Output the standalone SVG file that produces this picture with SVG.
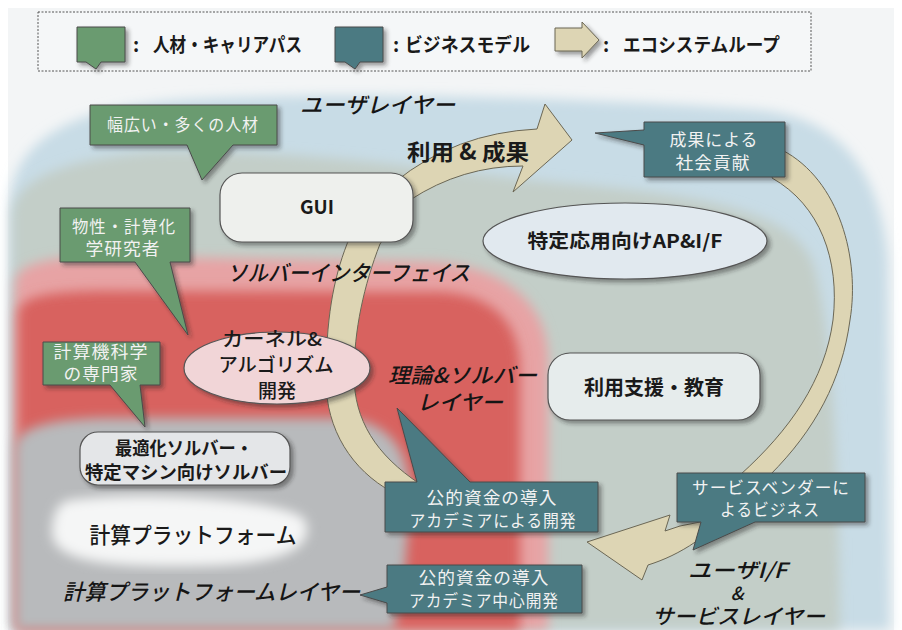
<svg xmlns="http://www.w3.org/2000/svg" width="902" height="630" viewBox="0 0 902 630">
<defs>
  <filter id="blur" x="-10%" y="-10%" width="120%" height="120%"><feGaussianBlur stdDeviation="6"/></filter>
  <filter id="shadow" x="-10%" y="-10%" width="130%" height="140%"><feDropShadow dx="3" dy="3" stdDeviation="2" flood-color="#222" flood-opacity="0.45"/></filter>
</defs>
<style>
  text { font-family: "Noto Sans CJK JP", "Noto Sans", sans-serif; }
  .cg { fill: #6a9b6f; stroke: #4a4a4a; stroke-width: 1; filter: url(#shadow); }
  .ct { fill: #4b7a82; stroke: #4a4a4a; stroke-width: 1; filter: url(#shadow); }
  .ctx { font-size: 17px; fill: #f2f2f2; text-anchor: middle; letter-spacing: 1px; }
  .node { stroke: #555; stroke-width: 1.2; filter: url(#shadow); }
  .lbl { font-size: 19px; font-weight: bold; fill: #1a1a1a; text-anchor: middle; }
  .lay { font-size: 22px; font-style: italic; font-weight: 500; fill: #151515; }
  .band { fill: #ddd5b4; stroke: #6b6755; stroke-width: 1; }
  .leg { font-size: 19px; font-weight: bold; fill: #1a1a1a; }
</style>

<g id="background">
  <rect width="902" height="630" fill="#ffffff"/>
  <rect x="8" y="8" width="886" height="622" fill="#f3f5f6"/>
  <path filter="url(#blur)" fill="#c8dce6" d="M10,630 L10,200 C15,140 70,108 180,100 C330,90 600,98 760,110 C840,118 880,170 888,260 L890,630 Z"/>
  <path filter="url(#blur)" fill="#c3cec8" d="M12,630 L12,215 C15,180 60,160 150,152 C300,148 450,172 560,183 C700,195 800,210 815,270 C830,330 838,420 840,630 Z"/>
  <path filter="url(#blur)" fill="#e7a3a4" d="M15,630 L15,285 C15,265 40,258 100,256 L430,262 C500,265 548,300 548,360 L548,630 Z"/>
  <path filter="url(#blur)" fill="#d8625f" d="M18,630 L18,315 C18,298 40,292 100,291 L440,292 C490,294 520,320 520,370 L520,630 Z"/>
  <path filter="url(#blur)" fill="#b8babc" d="M15,630 L15,450 C15,430 40,420 100,418 L340,418 C390,420 410,450 410,500 L405,570 C400,600 395,615 395,630 Z"/>
  <path filter="url(#blur)" fill="#f5f6f6" d="M70,500 C150,490 290,500 305,520 C315,545 290,565 200,566 C100,568 50,560 52,530 C53,510 60,502 70,500 Z"/>
</g>

<g id="legend">
  <rect x="38" y="12" width="773" height="59" fill="#f5f7f8" stroke="#555" stroke-width="1" stroke-dasharray="2 1.5"/>
  <path class="cg" d="M77,27 H125 V62 H101 L96,69 L86,62 H77 Z"/>
  <text class="leg" x="133" y="52">:</text>
  <text class="leg" x="153" y="52" textLength="149" lengthAdjust="spacingAndGlyphs">人材・キャリアパス</text>
  <path class="ct" d="M335,27 H383 V62 H360 L355,69 L345,62 H335 Z"/>
  <text class="leg" x="393" y="52">:</text>
  <text class="leg" x="405" y="52" textLength="125" lengthAdjust="spacingAndGlyphs">ビジネスモデル</text>
  <path class="band" style="filter:url(#shadow)" d="M555,28 H582 V22 L599,40 L582,58 V51 H555 Z"/>
  <text class="leg" x="603" y="52">:</text>
  <text class="leg" x="623" y="52" textLength="157" lengthAdjust="spacingAndGlyphs">エコシステムループ</text>
</g>

<g id="connectors">
  <path class="band" d="M392,492 C352,470 326,430 326,380 C326,320 333,280 347,244 L360,215 L395,182 Q455,133 537,129 L545,104 L572,140 L513,192 L523,166 Q462,166 410,200 L380,244 C364,285 354,330 354,375 C354,420 376,455 420,484 Z"/>
  <path class="band" d="M782,150 C840,180 860,260 850,320 C842,380 815,430 770,475 L700,522 L680,526 L665,531 L670,515 L587,542 L642,580 L648,565 C680,555 712,535 740,500 L740,475 C790,430 825,380 833,320 C840,260 820,205 772,178 Z"/>
  <text class="lbl" x="468" y="160" text-anchor="start" style="font-size:22px" textLength="122" lengthAdjust="spacingAndGlyphs">利用 &amp; 成果</text>
</g>

<g id="layer-labels">
  <text class="lay" x="300" y="113" textLength="155" lengthAdjust="spacingAndGlyphs">ユーザレイヤー</text>
  <text class="lay" x="227" y="281" textLength="243" lengthAdjust="spacingAndGlyphs">ソルバーインターフェイス</text>
  <text class="lay" x="388" y="383" textLength="149" lengthAdjust="spacingAndGlyphs" style="font-size:21px">理論&amp;ソルバー</text>
  <text class="lay" x="417" y="410" textLength="86" lengthAdjust="spacingAndGlyphs" style="font-size:21px">レイヤー</text>
  <text class="lay" x="63" y="600" textLength="297" lengthAdjust="spacingAndGlyphs">計算プラットフォームレイヤー</text>
  <text class="lay" x="688" y="578" textLength="99" lengthAdjust="spacingAndGlyphs" style="font-size:21px">ユーザI/F</text>
  <text class="lay" x="737" y="600" text-anchor="middle" style="font-size:18px">&amp;</text>
  <text class="lay" x="652" y="624" textLength="173" lengthAdjust="spacingAndGlyphs" style="font-size:21px">サービスレイヤー</text>
</g>

<g id="gui">
  <rect class="node" x="220" y="173" width="193" height="69" rx="22" fill="#eef0ed"/>
  <text class="lbl" x="317" y="214">GUI</text>
</g>

<g id="app-if">
  <ellipse class="node" cx="625" cy="241" rx="142" ry="38" fill="#e1e9ef"/>
  <text class="lbl" x="625" y="248" textLength="195" lengthAdjust="spacingAndGlyphs">特定応用向けAP&amp;I/F</text>
</g>

<g id="kernel">
  <ellipse class="node" cx="277" cy="368" rx="93" ry="36" fill="#f1d5d7"/>
  <text class="lbl" x="272" y="346" style="font-size:19px;font-weight:500" textLength="100" lengthAdjust="spacingAndGlyphs">カーネル&amp;</text>
  <text class="lbl" x="276" y="372" style="font-size:19px;font-weight:500" textLength="115" lengthAdjust="spacingAndGlyphs">アルゴリズム</text>
  <text class="lbl" x="277" y="398" style="font-size:19px;font-weight:500">開発</text>
</g>

<g id="support">
  <rect class="node" x="548" y="353" width="212" height="67" rx="22" fill="#e6ecec"/>
  <text class="lbl" x="654" y="395" style="font-size:20px" textLength="140" lengthAdjust="spacingAndGlyphs">利用支援・教育</text>
</g>

<g id="solver">
  <rect class="node" x="80" y="432" width="210" height="53" rx="18" fill="#e4e6e8"/>
  <text class="lbl" x="184" y="455" style="font-size:18px" textLength="138" lengthAdjust="spacingAndGlyphs">最適化ソルバー・</text>
  <text class="lbl" x="186" y="479" style="font-size:18px" textLength="202" lengthAdjust="spacingAndGlyphs">特定マシン向けソルバー</text>
</g>

<g id="platform">
  <text class="lbl" x="193" y="543" style="font-size:22px;font-weight:500" textLength="207" lengthAdjust="spacingAndGlyphs">計算プラットフォーム</text>
</g>

<g id="callout-broad">
  <path class="cg" d="M90,105 H277 V145 H233 L202,180 L187,145 H90 Z"/>
  <text class="ctx" x="183" y="131" textLength="152" lengthAdjust="spacingAndGlyphs">幅広い・多くの人材</text>
</g>

<g id="callout-chem">
  <path class="cg" d="M60,208 H190 V262 H170 L188,335 L135,262 H60 Z"/>
  <text class="ctx" x="124" y="233" textLength="104" lengthAdjust="spacingAndGlyphs">物性・計算化</text>
  <text class="ctx" x="123" y="255" textLength="75" lengthAdjust="spacingAndGlyphs">学研究者</text>
</g>

<g id="callout-cs">
  <path class="cg" d="M43,342 H160 V385 H140 L145,427 L110,385 H43 Z"/>
  <text class="ctx" x="101" y="358" textLength="95" lengthAdjust="spacingAndGlyphs">計算機科学</text>
  <text class="ctx" x="101" y="380" textLength="75" lengthAdjust="spacingAndGlyphs">の専門家</text>
</g>

<g id="callout-social">
  <path class="ct" d="M644,122 H785 V177 H644 V145 L595,133 L644,130 Z"/>
  <text class="ctx" x="714" y="146" textLength="89" lengthAdjust="spacingAndGlyphs">成果による</text>
  <text class="ctx" x="713" y="169" textLength="75" lengthAdjust="spacingAndGlyphs">社会貢献</text>
</g>

<g id="callout-academia">
  <path class="ct" d="M385,482 H417 L397,408 L470,482 H598 V532 H385 Z"/>
  <text class="ctx" x="492" y="504" textLength="131" lengthAdjust="spacingAndGlyphs">公的資金の導入</text>
  <text class="ctx" x="493" y="527" textLength="167" lengthAdjust="spacingAndGlyphs">アカデミアによる開発</text>
</g>

<g id="callout-academia-center">
  <path class="ct" d="M387,565 H582 V613 H387 V603 L360,595 L387,587 Z"/>
  <text class="ctx" x="484" y="584" textLength="131" lengthAdjust="spacingAndGlyphs">公的資金の導入</text>
  <text class="ctx" x="484" y="607" textLength="150" lengthAdjust="spacingAndGlyphs">アカデミア中心開発</text>
</g>

<g id="callout-vendor">
  <path class="ct" d="M677,473 H865 V522 H755 L693,550 L701,522 H677 Z"/>
  <text class="ctx" x="771" y="494" textLength="158" lengthAdjust="spacingAndGlyphs">サービスベンダーに</text>
  <text class="ctx" x="770" y="516" textLength="100" lengthAdjust="spacingAndGlyphs">よるビジネス</text>
</g>
</svg>
